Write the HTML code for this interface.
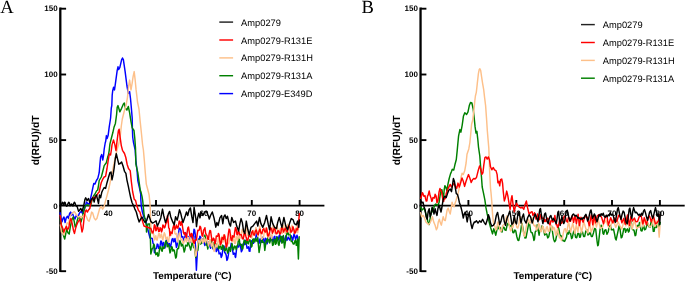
<!DOCTYPE html>
<html>
<head>
<meta charset="utf-8">
<title>Melt curves</title>
<style>
html,body{margin:0;padding:0;background:#fff;}
body{width:685px;height:282px;overflow:hidden;}
svg{display:block;will-change:transform;}
text{font-family:"Liberation Sans",sans-serif;fill:#000;text-rendering:geometricPrecision;}
.tk{font-size:8px;font-weight:bold;}
.lg{font-size:9.3px;}
.ti{font-size:10px;font-weight:bold;}
.pl{font-family:"Liberation Serif",serif;font-size:18.6px;}
</style>
</head>
<body>
<svg width="685" height="282" viewBox="0 0 685 282">
<rect width="685" height="282" fill="#fff"/>
<line x1="60.30" y1="7.6" x2="60.30" y2="272.1" stroke="#000" stroke-width="2.3"/>
<line x1="59.3" y1="205.6" x2="324.4" y2="205.6" stroke="#000" stroke-width="1.9"/>
<line x1="60.3" y1="8.7" x2="66.1" y2="8.7" stroke="#000" stroke-width="1.9"/>
<text x="57.6" y="11.2" text-anchor="end" class="tk">150</text>
<line x1="60.3" y1="74.5" x2="66.1" y2="74.5" stroke="#000" stroke-width="1.9"/>
<text x="57.6" y="77.2" text-anchor="end" class="tk">100</text>
<line x1="60.3" y1="140.1" x2="66.1" y2="140.1" stroke="#000" stroke-width="1.9"/>
<text x="57.6" y="143.0" text-anchor="end" class="tk">50</text>
<text x="57.6" y="208.9" text-anchor="end" class="tk">0</text>
<line x1="60.3" y1="271.2" x2="66.1" y2="271.2" stroke="#000" stroke-width="1.9"/>
<text x="57.6" y="274.3" text-anchor="end" class="tk">-50</text>
<line x1="108.2" y1="205.6" x2="108.2" y2="200.0" stroke="#000" stroke-width="1.9"/>
<text x="108.2" y="216.4" text-anchor="middle" class="tk">40</text>
<line x1="156.0" y1="205.6" x2="156.0" y2="200.0" stroke="#000" stroke-width="1.9"/>
<text x="156.0" y="216.4" text-anchor="middle" class="tk">50</text>
<line x1="203.9" y1="205.6" x2="203.9" y2="200.0" stroke="#000" stroke-width="1.9"/>
<text x="203.9" y="216.4" text-anchor="middle" class="tk">60</text>
<line x1="251.8" y1="205.6" x2="251.8" y2="200.0" stroke="#000" stroke-width="1.9"/>
<text x="251.8" y="216.4" text-anchor="middle" class="tk">70</text>
<line x1="299.6" y1="205.6" x2="299.6" y2="200.0" stroke="#000" stroke-width="1.9"/>
<text x="299.6" y="216.4" text-anchor="middle" class="tk">80</text>
<line x1="420.55" y1="7.6" x2="420.55" y2="272.1" stroke="#000" stroke-width="2.3"/>
<line x1="419.6" y1="205.6" x2="684.7" y2="205.6" stroke="#000" stroke-width="1.9"/>
<line x1="420.6" y1="8.7" x2="426.4" y2="8.7" stroke="#000" stroke-width="1.9"/>
<text x="417.9" y="11.2" text-anchor="end" class="tk">150</text>
<line x1="420.6" y1="74.5" x2="426.4" y2="74.5" stroke="#000" stroke-width="1.9"/>
<text x="417.9" y="77.2" text-anchor="end" class="tk">100</text>
<line x1="420.6" y1="140.1" x2="426.4" y2="140.1" stroke="#000" stroke-width="1.9"/>
<text x="417.9" y="143.0" text-anchor="end" class="tk">50</text>
<text x="417.9" y="208.9" text-anchor="end" class="tk">0</text>
<line x1="420.6" y1="271.2" x2="426.4" y2="271.2" stroke="#000" stroke-width="1.9"/>
<text x="417.9" y="274.3" text-anchor="end" class="tk">-50</text>
<line x1="468.4" y1="205.6" x2="468.4" y2="200.0" stroke="#000" stroke-width="1.9"/>
<text x="468.4" y="216.4" text-anchor="middle" class="tk">40</text>
<line x1="516.3" y1="205.6" x2="516.3" y2="200.0" stroke="#000" stroke-width="1.9"/>
<text x="516.3" y="216.4" text-anchor="middle" class="tk">50</text>
<line x1="564.2" y1="205.6" x2="564.2" y2="200.0" stroke="#000" stroke-width="1.9"/>
<text x="564.2" y="216.4" text-anchor="middle" class="tk">60</text>
<line x1="612.0" y1="205.6" x2="612.0" y2="200.0" stroke="#000" stroke-width="1.9"/>
<text x="612.0" y="216.4" text-anchor="middle" class="tk">70</text>
<line x1="659.9" y1="205.6" x2="659.9" y2="200.0" stroke="#000" stroke-width="1.9"/>
<text x="659.9" y="216.4" text-anchor="middle" class="tk">80</text>
<polyline points="60.1,212.7 60.8,217.7 62.0,221.9 63.0,218.4 64.0,217.0 65.1,222.5 66.2,218.0 67.5,216.3 68.5,218.5 69.6,213.5 70.6,212.1 71.1,215.5 72.2,213.0 73.5,216.0 75.0,219.0 76.5,215.0 78.0,217.0 79.5,213.0 81.3,211.4 82.5,213.5 84.1,209.9 85.5,205.7 86.4,202.0 87.8,203.5 89.3,204.2 90.7,197.8 91.8,192.8 92.8,187.8 93.8,183.4 94.9,184.1 96.4,180.5 97.8,178.4 99.2,172.7 99.9,164.2 100.6,157.0 101.7,154.5 102.8,160.0 103.5,156.0 104.2,149.0 105.2,143.0 105.7,141.3 106.4,135.6 107.1,138.5 108.1,135.6 109.2,127.1 110.3,120.0 110.6,118.0 111.3,108.0 111.8,105.6 112.2,95.0 112.7,90.8 113.6,87.2 114.5,89.9 115.4,83.7 117.2,70.4 118.0,66.8 118.6,69.5 119.8,67.7 121.6,59.8 122.5,58.0 123.4,59.8 125.1,71.3 126.9,85.5 128.3,93.4 129.6,91.7 130.5,98.5 131.3,107.4 132.2,118.0 132.4,128.5 132.7,137.0 133.4,142.0 135.2,150.0 135.8,160.0 137.0,170.0 137.8,180.5 139.5,188.0 140.7,194.0 140.8,199.2 141.3,206.3 142.4,212.0 144.1,217.7 145.6,219.1 147.0,226.0 148.5,232.0 150.0,238.0 152.3,238.5 153.0,243.2 153.7,244.1 154.4,252.7 155.1,248.9 155.8,248.4 156.5,248.6 157.2,244.1 157.9,244.5 158.7,248.4 159.4,248.5 160.1,245.6 160.8,241.1 161.5,241.3 162.2,246.2 162.9,244.1 163.6,242.4 164.3,247.0 165.0,248.0 165.8,242.7 166.5,240.1 167.2,241.3 167.9,245.3 168.6,244.1 169.3,243.5 170.0,247.0 170.7,246.6 171.4,242.7 172.1,239.0 172.9,238.5 173.6,241.8 174.3,241.3 175.0,238.5 175.7,242.7 176.4,247.4 177.1,245.6 178.5,234.2 179.2,228.2 180.0,228.5 181.0,230.7 181.5,237.0 182.1,237.0 182.8,236.6 183.5,239.9 184.2,240.6 184.9,237.0 185.6,232.8 186.4,234.2 187.1,239.4 187.8,238.5 188.5,236.6 189.2,241.3 189.9,242.5 190.6,237.0 191.3,236.2 192.0,238.5 192.7,239.1 193.5,234.2 194.0,229.2 194.6,229.9 195.6,237.0 195.0,236.2 196.4,270.3 197.8,243.3 198.5,239.0 199.2,240.2 199.9,236.2 200.7,237.2 201.4,241.9 202.1,242.9 202.8,239.0 203.5,239.6 204.2,243.3 204.9,245.4 205.6,240.5 206.3,239.3 207.0,244.7 207.8,245.9 208.5,241.9 209.2,241.9 209.9,246.1 210.6,248.2 211.3,243.3 212.0,242.8 212.7,247.6 213.4,249.5 214.1,244.7 214.9,242.8 215.6,247.6 216.3,251.5 217.0,250.4 217.7,247.4 218.4,249.0 219.1,253.9 219.8,253.2 220.5,253.0 221.2,257.5 222.0,255.7 222.7,250.4 223.4,246.2 224.1,246.1 224.8,252.9 225.5,253.2 226.2,255.3 226.9,260.4 227.6,259.0 228.4,254.7 229.1,248.3 229.8,247.6 230.5,247.5 231.2,243.3 231.9,244.3 232.6,250.4 233.3,254.3 234.0,253.2 234.7,253.2 235.5,257.5 235.0,256.1 235.7,256.9 236.4,250.4 237.1,246.4 237.8,246.1 238.6,247.1 239.3,243.3 240.0,243.6 240.7,247.6 241.4,251.8 242.1,250.4 242.8,244.8 243.5,243.3 244.2,244.8 244.9,241.9 245.7,240.2 246.4,244.7 247.1,248.3 247.8,247.6 248.5,246.7 249.2,251.1 249.9,251.3 250.6,244.7 251.3,241.0 252.0,240.5 252.8,243.4 253.5,243.3 254.2,239.3 254.9,239.0 255.6,239.3 256.3,233.4 257.0,233.4 257.7,239.0 258.4,243.1 259.1,243.3 259.9,239.0 260.6,239.0 261.3,242.3 262.0,241.9 262.7,237.3 263.4,237.6 264.1,242.0 264.8,243.3 265.5,238.2 266.2,239.0 267.0,243.9 267.7,241.9 268.4,235.5 269.1,236.2 269.8,241.4 270.5,240.5 271.2,235.5 271.9,237.6 272.6,241.2 273.4,241.9 274.1,237.0 274.8,236.2 275.5,241.9 276.2,240.5 276.9,236.6 277.6,239.0 278.3,239.9 279.0,236.2 279.7,234.8 280.5,240.5 281.2,241.8 281.9,237.6 282.4,236.7 283.0,242.3 284.6,239.5 285.9,235.7 286.9,240.4 288.2,237.1 289.7,240.1 291.2,235.7 292.7,240.3 294.1,233.5 295.6,239.4 297.0,235.3 298.3,240.2" fill="none" stroke="#0000ff" stroke-width="1.45" stroke-linejoin="round" stroke-linecap="round"/>
<polyline points="60.4,220.0 62.1,228.4 63.5,235.5 64.7,239.1 65.7,234.1 66.6,228.4 67.9,232.7 69.2,234.1 70.3,227.0 71.8,219.9 73.2,217.0 74.2,221.3 75.2,227.0 76.3,224.9 77.4,219.9 78.4,217.0 79.9,218.0 81.0,222.0 82.3,217.0 83.6,212.0 85.0,206.3 86.5,205.0 87.8,204.9 89.0,205.5 90.7,205.6 92.0,200.0 93.5,196.0 95.0,194.0 96.5,191.0 97.7,190.0 98.6,185.0 99.2,180.5 101.3,177.0 102.8,171.3 104.2,165.6 106.3,162.8 107.7,157.1 108.5,154.8 109.2,150.5 109.9,144.1 111.3,138.5 112.8,132.8 114.1,126.9 115.4,123.4 116.6,114.5 117.2,107.4 118.0,105.6 119.8,111.8 121.6,108.3 123.4,103.9 124.3,103.0 125.5,108.3 126.9,110.1 128.3,106.5 129.6,112.7 131.0,121.6 132.2,127.8 134.0,130.5 134.8,138.5 135.5,148.4 135.9,164.2 137.8,172.7 139.2,182.7 140.2,190.0 141.0,192.1 142.0,196.4 142.7,200.6 143.4,207.7 144.1,214.8 145.3,220.5 146.3,225.0 146.5,232.0 148.0,224.0 149.8,224.0 150.3,235.0 150.8,254.1 152.3,248.4 153.0,248.1 153.7,244.1 154.4,245.3 155.1,251.2 155.8,254.7 156.5,254.1 157.2,252.6 157.9,256.2 158.7,255.6 159.4,249.8 160.1,247.0 160.8,247.0 161.5,250.4 162.2,251.2 162.9,246.8 163.6,248.4 164.3,248.1 165.0,244.1 165.8,240.9 166.5,241.3 167.2,246.8 167.9,245.6 168.6,244.7 169.3,248.4 170.0,252.9 170.7,251.2 171.4,246.8 172.1,247.0 172.9,251.0 173.6,249.8 174.3,250.3 175.0,254.1 175.7,258.1 176.4,256.9 177.1,249.6 177.8,248.4 178.5,248.7 179.2,244.1 180.0,240.6 180.7,242.7 181.4,246.1 182.1,244.1 182.8,244.8 183.5,248.4 184.2,252.0 184.9,249.8 185.6,245.2 186.4,245.6 187.1,246.1 187.8,242.7 188.5,242.8 189.2,245.6 190.0,247.6 190.7,250.0 191.4,246.1 192.1,242.4 192.8,243.3 193.6,247.5 194.3,246.1 195.7,257.5 196.4,250.8 197.1,250.4 197.8,250.4 198.5,244.7 199.2,239.4 199.9,240.5 200.7,244.0 201.4,243.3 202.1,239.6 202.8,241.9 203.5,242.0 204.2,237.6 204.9,235.1 205.6,239.0 206.3,245.0 207.0,244.7 207.8,249.0 208.5,244.6 209.2,243.3 209.9,243.5 210.6,240.5 211.3,240.1 212.0,243.3 212.7,248.0 213.4,246.1 214.1,242.5 214.9,243.3 215.6,247.7 216.3,246.9 217.0,243.9 217.7,244.7 218.4,248.9 219.1,248.3 219.8,244.8 220.5,245.4 221.2,249.2 222.0,249.0 222.7,245.1 223.4,246.1 224.4,250.8 225.5,250.4 226.2,246.5 226.9,249.0 227.6,253.1 228.4,251.8 229.1,247.2 229.8,249.0 230.5,251.4 231.2,247.6 231.9,243.5 232.6,246.1 233.3,249.9 234.0,248.3 234.7,245.9 235.5,246.9 236.2,249.6 236.9,246.1 237.8,244.7 238.6,238.6 239.3,239.0 240.0,245.1 240.7,244.7 241.4,244.4 242.1,249.0 242.8,248.9 243.5,243.3 244.2,240.1 244.9,240.5 245.7,244.2 246.4,241.9 247.1,240.1 247.8,243.3 248.5,243.8 249.2,240.5 249.9,239.7 250.6,241.9 251.3,247.1 252.0,246.1 252.8,239.2 253.5,239.0 254.2,242.0 254.9,241.9 255.6,238.2 256.3,240.5 257.0,241.2 257.7,237.6 259.1,252.5 260.6,243.3 261.3,239.6 262.0,239.0 262.7,242.4 263.4,241.9 264.1,243.2 264.8,250.4 266.2,240.5 267.0,242.2 267.7,237.6 268.4,238.4 269.1,241.9 269.8,243.0 270.5,239.0 271.2,238.4 271.9,240.5 272.6,245.4 273.4,244.7 274.1,239.9 274.8,239.0 275.5,244.3 276.2,243.3 276.9,237.1 277.6,237.6 278.3,243.9 279.0,245.4 280.5,236.2 281.2,236.4 281.9,243.3 282.6,241.3 283.3,235.4 284.5,247.9 286.4,235.4 287.0,232.7 287.6,233.0 288.5,234.9 289.5,231.7 291.3,241.6 292.3,241.5 293.2,244.1 294.1,244.0 295.1,240.4 295.7,240.7 296.3,245.4 296.9,244.8 297.5,239.2 298.4,259.0 299.2,236.7" fill="none" stroke="#008000" stroke-width="1.45" stroke-linejoin="round" stroke-linecap="round"/>
<polyline points="60.4,224.9 61.4,232.0 62.8,233.4 63.8,234.8 65.6,228.4 67.1,222.7 68.5,224.1 69.9,217.0 71.3,214.2 72.8,212.8 74.2,211.4 75.6,213.5 77.0,215.6 78.4,217.0 79.9,216.3 81.3,217.8 82.7,216.3 84.8,214.2 86.2,216.3 87.7,219.9 89.1,221.3 90.5,217.0 91.6,212.1 92.6,212.8 94.1,217.8 95.5,219.9 96.9,218.5 98.3,213.5 99.7,208.5 101.2,206.4 102.6,209.2 104.0,207.1 105.6,200.6 107.0,195.7 108.5,190.0 110.0,183.0 111.4,176.0 112.7,169.9 114.8,159.9 117.0,150.0 119.0,143.0 120.5,134.0 121.3,126.0 122.3,119.0 124.3,111.0 126.0,105.6 127.4,97.8 128.7,85.5 129.6,80.1 131.0,89.9 132.2,82.8 133.1,76.6 134.2,71.6 135.1,79.3 136.1,89.9 136.9,96.5 137.5,102.0 139.0,109.2 140.2,121.6 141.5,134.0 142.6,145.0 143.4,150.0 144.4,161.4 145.3,172.7 146.3,184.1 147.7,189.3 149.1,194.9 149.8,202.0 150.3,209.1 150.5,217.7 150.8,225.0 151.3,233.0 153.7,234.2 154.4,239.9 155.1,238.5 155.8,235.7 156.5,239.9 157.2,240.0 157.9,237.0 158.7,233.7 159.4,233.5 160.1,237.8 160.8,235.6 161.5,234.0 162.2,238.5 162.9,239.9 163.6,235.6 164.3,232.8 165.0,234.2 165.8,239.1 166.5,238.5 167.2,237.1 167.9,241.3 168.6,241.9 169.3,237.0 170.0,233.9 170.7,234.2 171.4,235.1 172.1,231.4 172.9,227.7 173.6,228.5 174.3,227.1 175.0,233.7 175.7,234.2 176.4,233.4 177.1,239.9 177.8,242.0 178.5,237.0 179.2,233.0 180.0,234.2 180.7,239.4 181.4,239.9 182.1,239.3 182.8,242.7 183.5,243.5 184.2,241.3 184.9,238.4 185.6,238.5 186.4,242.0 187.1,240.6 187.8,237.1 188.5,237.8 189.2,242.1 190.0,241.9 190.7,237.8 191.4,240.5 192.1,242.3 192.8,239.0 193.6,239.9 194.3,246.1 195.7,256.1 196.2,255.2 196.8,250.4 197.8,243.3 198.5,240.4 199.2,240.5 199.9,243.3 200.7,241.9 201.4,238.8 202.1,239.0 202.8,243.0 203.5,241.9 204.2,237.5 204.9,240.5 205.6,242.7 206.3,239.0 207.0,238.7 207.8,241.9 208.5,246.0 209.2,243.3 209.9,239.4 210.6,241.9 211.3,246.4 212.0,244.7 212.7,242.7 213.4,247.6 214.1,251.4 214.9,249.0 215.6,244.4 216.3,246.1 217.0,246.9 217.7,243.3 218.4,237.6 219.1,239.0 219.8,245.4 220.5,244.7 221.2,238.7 222.0,236.2 222.7,242.1 223.4,241.9 224.1,235.3 224.8,234.8 225.5,240.1 226.2,240.5 226.9,239.3 227.6,243.3 228.7,243.7 229.8,239.0 230.5,234.2 231.2,236.2 231.9,241.6 232.6,241.9 233.3,237.2 234.0,239.0 234.7,243.4 235.5,243.3 236.2,236.4 236.9,236.2 237.6,240.3 238.3,237.6 239.1,235.5 240.0,238.3 242.2,229.3 244.1,236.2 246.0,226.8 247.6,235.2 249.6,234.6 251.8,238.0 253.3,230.5 254.6,234.8 255.9,227.5 258.0,236.5 259.8,226.1 261.4,239.2 263.5,237.3 265.0,228.0 267.1,235.2 268.8,238.4 270.0,233.9 271.8,238.4 273.1,225.6 274.7,233.1 276.9,224.7 278.5,233.1 280.6,228.1 282.3,233.6 283.7,225.3 285.4,233.6 287.7,224.3 289.8,233.6 292.0,225.2 294.3,233.5 296.3,226.9 297.7,232.7 299.4,222.0" fill="none" stroke="#fdc08a" stroke-width="1.45" stroke-linejoin="round" stroke-linecap="round"/>
<polyline points="60.1,215.5 60.4,216.3 61.4,225.6 62.8,228.4 63.8,232.0 64.9,229.1 66.4,226.3 67.5,229.8 68.8,227.7 69.9,221.3 70.9,218.5 72.3,224.1 73.5,230.5 74.5,233.4 75.6,228.4 77.0,224.1 78.4,221.3 79.9,219.2 81.0,225.6 82.0,232.0 83.0,228.4 84.1,218.5 85.1,212.1 86.2,209.9 87.4,212.1 88.5,210.0 89.8,208.5 91.2,201.4 92.1,199.2 93.5,197.1 94.9,198.5 96.4,196.4 97.8,193.5 99.2,192.1 100.3,186.5 101.3,182.5 102.8,179.1 104.2,177.0 105.6,176.3 107.0,168.5 108.2,160.5 109.3,154.0 110.6,155.0 111.5,149.0 112.0,144.9 113.5,139.9 114.9,144.9 116.0,150.5 117.0,141.3 118.4,130.7 119.1,129.2 120.1,137.0 121.3,145.6 122.5,150.3 124.5,153.5 125.8,157.5 127.1,164.2 128.5,168.5 130.2,170.6 131.4,182.0 132.6,191.5 134.2,199.2 135.6,200.6 137.0,206.3 138.5,210.6 139.9,212.0 141.3,217.0 142.7,221.9 144.0,226.0 150.8,228.5 152.3,232.8 153.0,232.9 153.7,229.9 154.4,224.7 155.1,225.7 155.8,230.7 156.5,229.9 157.2,226.7 157.9,227.1 158.7,231.6 159.4,231.4 160.1,227.7 160.8,228.5 161.5,231.9 162.2,229.9 162.9,224.9 163.6,225.7 164.3,227.9 165.0,227.1 165.8,223.6 166.5,222.8 167.5,215.7 168.2,221.4 168.7,228.0 169.3,228.5 170.0,235.6 170.7,232.0 171.4,232.8 172.1,233.5 172.9,228.5 173.6,225.8 174.3,225.7 175.0,229.3 175.7,228.5 176.4,225.0 177.1,227.1 177.8,228.2 178.5,225.7 179.2,221.0 180.0,222.8 180.7,225.3 181.4,221.4 182.1,223.6 182.8,228.5 183.5,232.7 184.2,234.2 184.9,232.5 185.6,235.6 186.4,237.5 187.1,232.8 187.8,227.9 188.5,227.1 190.0,236.2 190.7,236.5 191.4,233.4 192.1,234.0 192.8,239.0 193.6,242.5 194.3,243.3 195.0,240.1 195.7,240.5 196.4,239.8 197.1,234.8 197.8,230.3 198.5,230.5 199.2,230.2 199.9,226.3 200.7,227.3 201.4,231.9 202.1,235.8 202.8,236.2 203.5,230.4 204.2,229.1 204.9,227.7 205.6,233.1 206.3,234.8 207.0,235.6 207.8,239.0 208.5,239.2 209.2,233.4 209.9,230.5 210.6,230.9 211.3,236.2 212.0,241.0 212.7,240.5 213.4,238.1 214.1,239.0 214.9,243.8 215.6,241.9 216.3,236.0 217.0,236.2 217.7,236.3 218.4,233.4 219.1,234.9 219.8,240.5 220.5,244.7 221.2,243.3 222.0,237.7 222.7,237.6 223.4,239.5 224.1,234.8 224.8,236.2 225.5,241.9 226.2,247.0 226.9,246.1 228.4,233.4 229.1,229.1 229.8,230.0 230.5,236.2 231.2,240.3 231.9,240.5 232.6,235.8 233.3,236.2 234.0,237.2 234.7,231.9 235.5,227.5 236.2,229.1 236.9,234.3 237.6,234.8 238.3,230.8 239.0,231.9 239.7,234.7 240.5,234.8 240.5,234.8 241.4,234.8 242.3,238.5 243.3,239.0 244.2,233.5 245.1,233.2 246.1,237.3 247.0,240.3 247.9,240.0 248.8,235.6 249.8,236.0 250.7,236.9 251.6,232.3 252.6,230.8 253.5,234.8 254.4,235.0 255.4,231.1 256.3,230.1 257.2,233.5 258.2,234.7 259.1,231.1 260.0,229.1 260.9,232.9 261.9,233.7 262.8,229.8 263.7,228.6 264.7,231.7 265.6,232.1 266.5,228.0 267.1,230.6 267.8,236.0 268.7,235.5 269.6,232.3 270.6,227.7 271.5,228.6 272.4,233.2 273.3,231.1 274.3,227.9 275.2,229.8 276.1,233.8 277.1,233.5 278.0,230.6 278.9,231.1 279.9,234.3 280.8,232.9 281.7,227.4 282.7,228.6 283.6,232.1 284.5,229.8 285.4,228.0 286.4,231.1 287.3,232.0 288.2,226.7 289.2,225.9 290.1,228.6 291.0,232.2 292.0,231.1 292.9,226.8 293.8,229.2 294.8,233.2 295.7,232.3 296.3,228.8 296.9,229.8 297.5,229.8 298.2,226.1 299.4,213.7" fill="none" stroke="#ff0000" stroke-width="1.45" stroke-linejoin="round" stroke-linecap="round"/>
<polyline points="60.8,203.8 61.5,204.8 62.3,202.3 62.8,202.6 63.4,204.5 63.9,204.9 64.4,202.3 65.1,202.5 65.8,205.2 66.8,206.3 67.9,203.8 68.7,202.2 69.4,203.0 70.1,205.8 70.8,205.2 71.5,204.0 72.2,204.5 72.9,206.0 73.6,203.8 74.3,202.2 75.0,203.0 75.8,205.6 76.5,206.3 77.2,206.6 77.9,209.1 78.6,211.3 79.3,210.6 80.7,208.4 82.1,211.3 83.6,206.3 85.0,199.2 85.7,197.8 87.1,200.6 88.5,198.5 90.0,202.8 91.4,199.2 92.8,197.8 94.2,202.0 95.2,196.4 96.4,194.9 97.5,199.2 98.5,203.5 99.5,194.9 100.6,197.8 101.8,192.1 102.8,190.0 104.2,187.6 105.6,188.4 107.0,182.7 108.4,177.7 109.9,172.7 111.0,172.0 112.0,179.8 113.1,174.9 114.1,168.5 115.3,158.5 116.3,153.6 117.4,158.5 118.8,164.2 120.2,163.5 121.6,162.1 123.1,166.3 124.5,171.3 125.9,173.4 126.9,179.8 128.3,186.2 129.2,190.7 130.7,197.8 132.1,202.8 133.5,205.6 134.9,209.1 136.3,212.0 137.8,217.7 139.2,221.9 140.6,219.1 142.0,217.0 143.4,219.8 145.0,222.5 146.8,220.2 148.5,214.4 149.7,217.9 150.8,221.4 152.6,223.1 154.4,222.0 156.1,220.8 157.3,226.1 159.0,222.5 160.8,217.9 162.5,209.1 163.7,215.5 165.5,222.5 167.2,217.9 168.4,213.8 169.6,211.4 170.7,216.7 172.5,221.4 174.2,224.9 175.6,216.7 177.2,220.2 178.3,215.5 179.5,209.7 180.7,213.2 181.8,217.9 183.0,222.5 184.2,219.0 185.4,215.5 186.5,212.0 187.7,215.5 189.2,209.7 190.4,207.9 191.8,216.7 193.0,222.5 194.1,207.3 195.9,219.0 196.5,226.6 197.6,217.9 198.8,213.2 200.0,217.9 201.1,212.0 202.9,215.5 204.6,212.0 206.4,211.4 208.2,215.5 209.3,219.0 210.5,215.5 212.3,212.0 214.0,217.9 215.8,227.2 216.9,222.5 218.1,225.5 219.9,217.9 221.6,215.5 222.8,223.7 223.9,216.7 225.0,214.9 226.2,218.6 227.4,216.2 229.3,223.6 230.5,226.1 231.8,217.4 233.6,222.4 235.5,221.1 236.7,226.1 238.6,231.1 239.9,223.6 241.1,218.6 242.3,222.4 243.6,231.1 244.8,233.5 246.3,221.1 247.9,229.8 249.2,234.8 251.0,227.3 252.9,226.1 254.7,223.6 256.6,221.1 257.8,226.1 259.5,217.4 260.9,223.6 262.8,227.3 264.7,222.4 266.5,215.5 268.4,224.9 269.6,229.8 271.1,216.8 272.7,223.6 274.6,227.3 276.5,228.6 277.7,222.4 279.3,217.4 280.8,223.6 282.0,227.3 283.9,217.4 285.8,226.1 287.6,229.8 289.5,223.6 291.3,218.6 293.2,219.9 294.4,223.6 296.3,224.9 297.5,221.1 298.8,227.3 299.4,219.9" fill="none" stroke="#000000" stroke-width="1.45" stroke-linejoin="round" stroke-linecap="round"/>
<polyline points="420.6,207.0 422.0,210.0 424.0,208.0 426.0,214.0 428.0,222.0 429.2,224.6 430.5,216.0 432.0,208.0 433.0,212.0 434.4,205.4 435.7,204.1 437.7,205.4 439.0,202.8 440.0,196.2 441.0,190.3 441.9,189.7 442.9,196.2 443.6,197.5 444.2,189.7 444.9,185.7 445.8,187.1 446.9,191.0 447.9,184.4 449.2,178.5 450.5,173.9 451.5,171.5 452.3,169.3 453.7,170.1 454.9,164.8 456.3,159.5 457.2,150.6 457.9,143.0 458.6,135.8 459.9,129.6 460.9,132.2 462.2,125.1 463.4,116.3 464.8,112.7 466.6,114.5 468.0,111.8 469.3,105.6 470.5,102.4 471.9,103.0 473.2,109.2 474.2,118.0 475.1,126.9 476.0,133.1 476.9,131.3 477.8,139.3 478.5,147.1 479.8,156.0 480.6,166.6 481.5,177.2 482.2,187.0 483.4,192.6 484.9,200.2 486.0,207.9 487.2,214.0 488.7,220.1 490.5,227.3 492.5,233.9 493.8,228.7 495.8,235.2 497.7,226.0 498.7,228.7 499.7,227.3 500.4,227.7 501.0,231.3 502.0,232.0 503.0,227.3 504.0,227.2 505.0,230.0 506.0,230.4 506.9,226.0 507.9,223.3 508.9,224.7 509.9,226.5 510.9,225.4 511.9,226.6 512.9,232.6 513.8,232.7 514.8,230.0 515.8,231.1 516.8,236.5 517.8,240.0 518.8,240.5 520.7,231.3 521.4,225.9 522.0,223.4 524.0,233.9 525.0,238.1 526.0,237.9 528.0,227.3 528.8,223.0 529.7,224.7 530.5,230.2 531.2,232.6 532.2,232.8 533.2,236.5 533.9,240.5 534.5,239.2 535.2,232.0 535.8,231.3 536.5,230.5 537.2,224.7 539.1,235.2 539.8,230.5 540.4,230.0 541.1,231.3 541.8,226.0 542.7,226.6 543.7,230.0 544.7,235.0 545.7,233.9 546.7,234.0 547.7,237.9 548.7,236.8 549.6,232.6 550.6,227.8 551.6,226.0 553.6,239.2 554.6,241.8 555.6,240.5 557.5,231.3 558.2,227.0 558.8,228.7 559.8,234.3 560.8,236.5 561.8,236.0 562.8,240.5 564.6,241.4 566.5,237.1 567.2,232.9 567.9,232.7 568.6,234.1 569.4,230.5 570.5,233.1 571.6,238.6 572.3,237.8 573.0,234.2 573.8,231.0 574.5,231.3 575.6,237.3 576.7,237.8 577.8,233.5 578.9,233.5 579.6,237.2 580.3,237.1 581.4,232.0 582.5,232.0 583.6,236.4 584.7,236.4 585.8,231.2 586.9,229.8 588.0,235.0 589.1,234.2 590.2,232.5 591.3,236.4 592.4,236.4 593.5,232.7 594.6,228.4 595.7,229.1 597.1,241.5 597.7,245.7 598.3,245.1 600.0,229.8 601.1,225.2 602.2,226.9 603.0,233.4 603.7,234.2 604.8,230.1 605.9,229.8 607.0,234.3 608.1,232.0 609.2,227.2 610.3,225.4 611.4,229.8 612.4,229.8 613.5,229.1 614.6,234.2 615.4,238.7 616.1,240.0 618.3,229.8 619.0,226.0 619.7,226.9 621.2,237.8 621.9,237.4 622.7,234.2 623.8,228.6 624.9,228.4 625.6,232.3 626.3,230.5 627.4,228.8 628.5,232.0 629.2,231.1 630.0,224.0 630.7,221.3 631.4,222.5 632.2,228.9 632.9,229.8 634.0,230.2 635.1,235.7 635.8,235.2 636.5,229.8 637.3,225.4 638.0,225.4 638.7,227.0 639.5,222.5 640.2,223.3 640.9,230.5 642.0,231.0 643.1,226.9 643.8,225.7 644.6,229.8 645.7,229.1 646.8,225.4 647.8,223.4 648.9,226.9 650.0,227.0 651.1,221.8 651.9,220.2 652.6,225.4 653.3,231.4 654.1,231.3 654.8,227.2 655.5,226.9 656.4,227.5 657.3,224.0 657.8,222.7 658.4,226.9 659.3,226.1 660.2,222.5" fill="none" stroke="#008000" stroke-width="1.45" stroke-linejoin="round" stroke-linecap="round"/>
<polyline points="420.6,212.7 421.7,216.7 423.2,215.4 424.6,218.0 425.9,221.9 427.2,223.2 428.5,224.6 429.8,223.2 431.1,220.6 432.4,216.7 433.7,221.9 435.1,225.2 436.4,229.8 437.4,227.8 438.3,221.9 439.3,219.3 440.3,222.6 441.4,225.2 442.3,220.6 443.2,216.7 444.2,220.0 445.3,220.6 446.2,215.4 447.1,210.1 448.2,208.2 449.2,211.4 450.2,214.1 451.1,208.8 452.1,202.2 453.2,206.2 454.1,206.8 455.0,203.6 456.1,200.3 457.0,197.0 458.0,193.6 458.9,189.7 460.0,183.1 461.0,177.5 462.1,173.2 463.3,174.4 464.7,170.8 466.1,163.0 467.0,154.2 468.8,148.9 469.9,142.5 470.7,134.0 471.6,124.3 472.8,119.8 474.1,108.0 474.8,101.0 475.4,96.0 476.3,92.3 476.8,88.0 477.3,83.3 478.4,73.7 479.2,69.6 479.9,68.8 480.7,70.5 481.6,76.9 482.6,83.3 483.7,89.7 484.6,97.6 485.6,105.6 486.5,118.0 487.3,130.5 488.2,141.1 488.8,148.0 489.2,158.0 489.6,170.0 490.0,178.0 490.5,188.0 491.0,192.6 491.8,201.8 492.2,209.4 492.8,217.0 493.6,223.1 494.8,226.2 495.8,230.0 496.8,229.0 497.7,222.1 498.7,222.4 499.7,228.7 500.7,231.6 501.7,230.0 502.7,225.5 503.7,224.7 504.6,224.0 505.6,220.8 506.6,216.1 507.6,216.8 509.6,227.3 510.6,230.9 511.5,230.0 512.2,225.8 512.9,227.3 514.8,218.1 516.8,227.3 517.8,228.1 518.8,224.7 519.8,217.9 520.7,216.8 522.7,228.7 523.7,234.5 524.7,236.5 526.6,224.7 527.6,219.1 528.6,219.5 529.6,223.6 530.6,222.1 531.6,218.0 532.6,218.1 533.5,224.5 534.5,226.0 535.5,225.3 536.5,230.0 537.5,228.4 538.5,223.4 539.5,224.9 540.4,231.3 541.4,231.6 542.4,226.0 543.4,227.5 544.4,232.6 545.4,232.9 546.4,227.3 547.3,226.6 548.3,231.3 549.3,231.1 550.3,224.7 551.2,225.3 552.0,230.0 552.8,230.1 553.6,227.3 554.6,228.3 555.6,235.2 556.5,234.9 557.5,228.7 559.5,237.9 560.5,236.9 561.5,240.5 562.5,238.0 563.4,232.6 564.4,228.9 565.4,228.7 566.2,232.7 567.0,231.6 568.5,221.4 570.6,232.2 572.8,222.9 574.8,233.4 576.3,224.9 577.9,232.1 579.3,221.2 581.6,232.8 583.7,221.2 585.8,228.6 587.9,233.0 589.6,221.2 591.1,232.2 592.8,228.0 594.6,220.5 596.4,227.0 598.2,219.7 600.4,228.4 602.4,227.4 603.8,223.5 606.1,220.5 608.2,226.4 610.3,228.9 612.1,219.9 613.7,221.5 615.8,227.3 618.1,222.0 620.2,226.5 621.9,229.2 624.2,219.8 625.8,225.9 627.4,220.1 629.0,227.4 630.7,221.8 632.2,229.1 634.3,220.3 636.7,228.5 638.1,227.2 640.1,226.8 641.6,219.3 643.1,226.7 644.8,219.4 647.1,220.9 649.4,226.9 651.7,225.5 653.4,218.7 655.0,226.3 656.6,221.1 658.4,228.0 659.2,237.1 660.0,226.0" fill="none" stroke="#fdc08a" stroke-width="1.45" stroke-linejoin="round" stroke-linecap="round"/>
<polyline points="420.6,198.2 421.1,197.7 421.7,194.9 422.4,192.7 423.0,193.6 423.6,196.0 424.3,196.2 425.0,195.6 425.6,198.9 426.2,201.0 426.9,200.8 427.5,196.2 428.2,194.9 429.2,191.0 430.1,195.6 431.1,198.2 431.8,201.3 432.4,200.2 433.0,197.5 433.7,197.6 434.4,198.1 435.1,194.3 436.1,196.2 437.0,202.8 438.0,200.2 439.0,192.3 440.0,188.4 441.0,191.0 441.6,191.8 442.3,196.2 443.0,200.4 443.6,201.5 444.2,198.5 444.9,198.9 445.5,197.9 446.2,193.6 447.5,189.7 448.8,187.1 450.2,184.4 451.5,187.1 452.8,185.1 454.1,183.1 455.4,186.4 456.7,188.4 458.0,183.1 459.3,187.1 460.7,182.5 462.0,177.9 463.3,181.2 464.6,186.4 465.9,181.8 467.2,177.9 468.5,174.6 469.8,177.9 471.2,182.5 472.5,179.8 473.8,178.5 475.0,179.0 476.5,177.4 478.0,171.3 479.6,166.0 480.8,169.1 481.9,174.4 482.9,172.9 483.8,165.2 484.9,157.6 486.0,156.9 487.2,159.1 488.4,156.9 489.5,159.9 490.5,166.8 491.8,169.8 493.3,167.5 494.5,169.8 496.0,170.6 497.1,174.4 497.9,182.8 498.9,181.3 499.7,185.8 500.6,179.7 501.7,179.0 502.6,183.5 503.3,192.0 504.3,201.0 505.5,197.2 506.7,191.1 507.8,195.7 508.8,201.8 510.1,209.4 511.3,198.7 512.0,195.7 513.1,204.8 514.3,211.7 515.4,206.3 516.5,203.3 517.7,205.6 519.2,207.1 520.7,207.9 522.2,207.1 523.8,209.4 525.0,204.8 526.4,201.0 527.6,207.9 529.1,214.0 530.6,212.4 532.1,211.7 532.9,215.4 533.7,214.7 534.5,212.7 535.2,215.5 536.0,219.1 536.7,217.8 537.5,213.9 538.2,215.5 539.0,219.8 539.8,219.3 540.5,214.7 541.3,215.5 542.0,218.2 542.8,218.5 543.6,218.1 544.4,221.6 545.0,219.5 546.0,221.6 547.0,218.1 548.0,218.5 549.0,223.4 550.0,224.8 551.0,220.8 551.9,220.1 552.9,222.1 553.9,220.7 554.9,215.5 556.2,224.7 556.9,224.5 557.5,227.3 558.5,226.1 559.5,220.8 560.5,220.0 561.5,223.4 562.5,221.9 563.4,218.1 564.4,216.0 565.4,216.8 566.4,221.0 567.4,222.1 568.4,217.4 569.4,218.1 570.5,221.3 572.2,215.7 573.6,222.3 575.0,215.4 576.4,223.7 578.1,214.3 579.4,225.5 580.9,217.3 583.1,222.2 585.0,216.3 587.1,217.2 589.3,225.7 591.3,214.8 592.8,224.8 594.2,215.9 595.6,222.8 597.2,215.8 599.5,214.4 601.6,217.4 603.5,223.7 604.9,217.8 606.8,215.5 608.4,225.2 610.7,217.7 612.8,223.1 614.7,218.0 616.9,221.6 618.6,215.3 620.3,216.3 621.9,222.7 623.8,218.3 625.2,224.2 627.5,215.0 629.5,225.3 630.8,216.7 632.3,221.0 634.4,218.1 635.9,221.7 637.5,221.6 639.5,215.9 641.2,215.9 642.9,223.9 644.3,217.6 646.4,224.8 648.2,217.3 649.6,216.1 651.3,221.8 653.3,215.5 655.4,223.7 656.7,223.1 658.2,221.2 660.2,214.5" fill="none" stroke="#ff0000" stroke-width="1.45" stroke-linejoin="round" stroke-linecap="round"/>
<polyline points="420.9,200.9 421.9,202.9 423.0,202.2 423.9,206.2 425.2,210.1 426.1,216.7 427.2,219.3 428.2,211.4 429.2,208.8 430.1,216.7 431.1,214.0 432.2,207.5 433.1,210.1 434.0,214.1 435.1,208.8 436.1,212.7 437.0,215.4 437.9,208.8 439.0,204.9 440.0,208.2 441.0,212.1 441.9,207.5 442.9,200.9 443.6,198.2 444.9,196.2 446.2,197.6 447.5,193.6 448.8,190.3 450.2,189.0 451.5,191.7 452.4,185.7 453.4,178.5 454.5,181.8 455.4,188.4 456.3,193.6 457.4,194.3 458.4,197.6 459.3,202.2 460.7,206.2 462.0,211.4 463.3,218.0 464.2,214.1 465.2,212.1 466.3,216.7 467.2,221.9 468.1,216.7 469.2,212.7 470.1,218.0 471.1,224.6 472.1,228.5 473.1,224.6 474.4,221.9 475.0,222.3 476.5,220.8 478.0,223.1 479.6,220.8 481.1,222.3 482.6,219.3 484.1,222.3 485.7,224.6 487.2,220.1 488.4,214.7 489.5,217.8 490.5,223.1 491.8,226.2 493.3,225.4 494.8,223.1 496.3,215.5 497.6,212.4 498.6,217.8 499.7,224.6 500.9,221.6 502.1,216.2 503.2,214.7 504.3,221.6 505.5,225.4 507.0,218.5 508.5,214.7 509.8,210.9 510.8,217.0 511.9,224.6 513.1,223.1 514.3,215.5 515.4,222.3 516.5,223.9 517.7,215.5 518.9,211.7 520.0,217.0 521.0,223.1 522.3,217.0 523.5,214.0 524.5,220.1 526.1,223.1 527.6,217.8 529.1,214.7 530.6,217.0 532.2,223.1 533.7,217.8 535.2,214.0 536.7,217.8 538.0,221.8 538.9,215.6 539.8,209.4 540.5,208.5 541.1,213.0 542.0,219.2 542.9,223.6 543.8,219.2 544.6,213.9 545.5,213.0 546.4,217.4 547.3,221.8 548.2,223.6 549.1,219.2 550.0,216.5 550.9,215.6 551.7,218.3 552.6,220.1 553.5,218.3 554.4,220.1 555.3,221.8 556.2,223.6 557.1,218.3 557.9,212.1 558.6,211.2 559.3,218.3 560.2,225.4 561.0,221.0 561.9,216.5 562.8,220.1 563.7,223.6 564.6,221.8 565.5,215.6 566.4,211.2 567.3,210.3 568.1,213.9 569.0,218.3 569.9,221.0 571.2,218.3 572.6,214.8 573.5,213.9 574.3,215.2 575.2,216.1 576.1,215.2 577.0,216.5 577.9,218.3 578.8,217.4 579.7,218.7 580.6,219.2 581.4,218.3 582.3,219.2 583.2,217.4 584.1,218.3 585.0,215.6 585.9,214.3 586.8,217.4 587.6,221.0 588.5,219.2 589.4,214.8 590.3,211.2 591.0,209.9 591.6,213.0 592.5,218.3 593.4,216.5 594.3,213.9 595.2,215.6 596.1,219.2 597.0,221.8 597.8,219.2 599.1,214.7 600.1,216.2 601.1,213.7 602.2,215.2 603.2,213.2 604.2,216.2 605.2,217.3 606.2,215.2 607.3,216.7 608.3,214.7 609.3,215.7 610.3,212.7 611.3,215.2 612.4,214.2 613.4,216.2 614.4,220.3 615.4,222.4 616.5,215.2 617.5,209.1 618.3,207.6 619.0,211.1 620.0,216.2 621.0,219.3 622.1,214.2 623.1,211.1 624.1,212.2 625.1,217.3 626.2,222.4 627.2,223.9 628.2,217.3 629.2,209.1 629.9,208.1 630.8,214.2 631.8,218.3 632.8,211.1 633.6,207.6 634.3,210.1 635.3,212.7 636.4,212.2 637.4,213.7 638.4,215.2 639.4,214.2 640.5,216.2 641.5,213.2 642.5,215.2 643.5,211.1 644.5,209.6 645.6,213.2 646.6,217.3 647.6,220.3 648.6,216.2 649.6,212.2 650.7,210.6 651.7,215.2 652.7,218.3 653.7,215.2 654.8,210.1 655.5,207.6 656.3,211.1 657.3,216.2 658.3,214.2 659.1,218.3 659.7,224.4 660.4,212.2" fill="none" stroke="#000000" stroke-width="1.45" stroke-linejoin="round" stroke-linecap="round"/>
<line x1="219.3" y1="22.1" x2="233.1" y2="22.1" stroke="#222" stroke-width="1.45"/>
<text x="241.1" y="25.7" class="lg">Amp0279</text>
<line x1="219.3" y1="40.0" x2="233.1" y2="40.0" stroke="#ff0000" stroke-width="1.45"/>
<text x="241.1" y="43.6" class="lg">Amp0279-R131E</text>
<line x1="219.3" y1="57.9" x2="233.1" y2="57.9" stroke="#fdc08a" stroke-width="1.45"/>
<text x="241.1" y="61.4" class="lg">Amp0279-R131H</text>
<line x1="219.3" y1="75.7" x2="233.1" y2="75.7" stroke="#008000" stroke-width="1.45"/>
<text x="241.1" y="79.3" class="lg">Amp0279-R131A</text>
<line x1="219.3" y1="93.6" x2="233.1" y2="93.6" stroke="#0000ff" stroke-width="1.45"/>
<text x="241.1" y="97.1" class="lg">Amp0279-E349D</text>
<line x1="581.0" y1="24.6" x2="594.8" y2="24.6" stroke="#222" stroke-width="1.45"/>
<text x="602.8" y="28.2" class="lg">Amp0279</text>
<line x1="581.0" y1="42.5" x2="594.8" y2="42.5" stroke="#ff0000" stroke-width="1.45"/>
<text x="602.8" y="46.1" class="lg">Amp0279-R131E</text>
<line x1="581.0" y1="60.4" x2="594.8" y2="60.4" stroke="#fdc08a" stroke-width="1.45"/>
<text x="602.8" y="63.9" class="lg">Amp0279-R131H</text>
<line x1="581.0" y1="78.2" x2="594.8" y2="78.2" stroke="#008000" stroke-width="1.45"/>
<text x="602.8" y="81.8" class="lg">Amp0279-R131A</text>
<text transform="translate(39.0,140.4) rotate(-90)" text-anchor="middle" class="ti" style="font-size:10.3px">d(RFU)/dT</text>
<text x="192.2" y="279.4" text-anchor="middle" class="ti" textLength="78.6">Temperature (<tspan font-size="5.6" dy="-4.4">o</tspan><tspan dy="4.4">C)</tspan></text>
<text transform="translate(399.6,140.4) rotate(-90)" text-anchor="middle" class="ti" style="font-size:10.3px">d(RFU)/dT</text>
<text x="552.8" y="279.4" text-anchor="middle" class="ti" textLength="78.6">Temperature (<tspan font-size="5.6" dy="-4.4">o</tspan><tspan dy="4.4">C)</tspan></text>
<text x="0.3" y="12.9" class="pl">A</text>
<text x="361.6" y="12.9" class="pl">B</text>
</svg>
</body>
</html>
